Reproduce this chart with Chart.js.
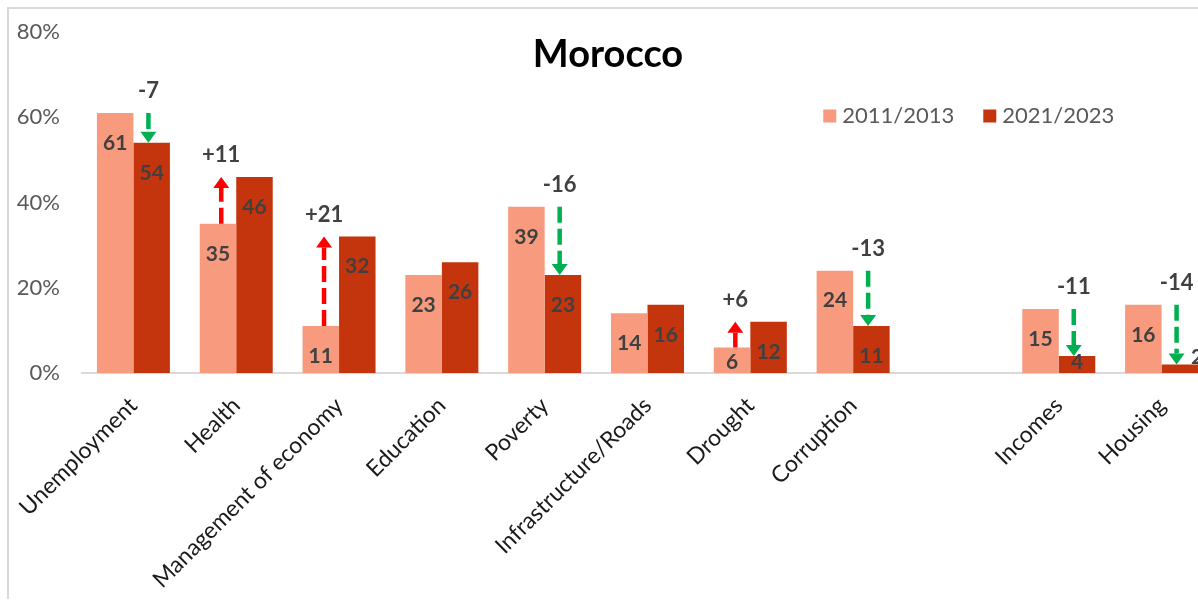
<!DOCTYPE html>
<html>
<head>
<meta charset="utf-8">
<title>Morocco</title>
<script src="https://cdn.jsdelivr.net/npm/chart.js@4.4.1/dist/chart.umd.min.js"></script>
<style>
  html, body { margin: 0; padding: 0; background: #fff; overflow: hidden; }
  #frame { position: absolute; left: 7px; top: 7px; border-top: 2px solid #d9d9d9; border-left: 2px solid #d9d9d9; }
  canvas { display: block; }
</style>
</head>
<body>
<div id="frame"><canvas id="myChart" width="1230" height="590"></canvas></div>
<script>
const categories = ['Unemployment', 'Health', 'Management of economy', 'Education', 'Poverty',
    'Infrastructure/Roads', 'Drought', 'Corruption', '', 'Incomes', 'Housing'];
const values2011 = [61, 35, 11, 23, 39, 14, 6, 24, null, 15, 16];
const values2021 = [54, 46, 32, 26, 23, 16, 12, 11, null, 4, 2];
const changeLabels = ['-7', '+11', '+21', null, '-16', null, '+6', '-13', null, '-11', '-14'];
const seriesNames = ['2011/2013', '2021/2023'];
const seriesColors = ['#F79A7E', '#C4350E'];
const yTicks = [0, 20, 40, 60, 80];

const FONT = 'Lato, "Open Sans", sans-serif';

// value labels, change arrows, title and legend
const annotations = {
    id: 'annotations',
    afterDatasetsDraw(chart) {
        const ctx = chart.ctx;
        const xScale = chart.scales.x;
        const yScale = chart.scales.y;
        const area = chart.chartArea;
        ctx.save();

        ctx.textBaseline = 'middle';
        ctx.font = `bold 21px ${FONT}`;
        ctx.fillStyle = '#404040';
        chart.data.datasets.forEach((ds, i) => {
            chart.getDatasetMeta(i).data.forEach((bar, j) => {
                const v = ds.data[j];
                if (v == null) return;
                if (bar.base - bar.y < 12) {
                    // too thin: put the label just beside the bar
                    ctx.textAlign = 'left';
                    ctx.fillText(String(v), bar.x + bar.width / 2 - 7, bar.y - 7);
                } else {
                    ctx.textAlign = 'center';
                    ctx.fillText(String(v), bar.x, Math.min(bar.y + 30, area.bottom - 11));
                }
            });
        });

        ctx.textAlign = 'center';
        changeLabels.forEach((label, j) => {
            if (!label) return;
            const v1 = values2011[j];
            const v2 = values2021[j];
            const up = v2 > v1;
            const ax = xScale.getPixelForValue(j) + (up ? -15 : 15);
            const y1 = yScale.getPixelForValue(v1);
            const y2 = yScale.getPixelForValue(v2);
            const dir = up ? -1 : 1;
            const head = 11;
            const color = up ? '#FF0000' : '#00B050';

            ctx.strokeStyle = color;
            ctx.lineWidth = 4.5;
            ctx.setLineDash([16, 6]);
            ctx.beginPath();
            ctx.moveTo(ax, y1);
            ctx.lineTo(ax, y2 - dir * head);
            ctx.stroke();
            ctx.setLineDash([]);

            ctx.fillStyle = color;
            ctx.beginPath();
            ctx.moveTo(ax - 8, y2 - dir * head);
            ctx.lineTo(ax + 8, y2 - dir * head);
            ctx.lineTo(ax, y2);
            ctx.closePath();
            ctx.fill();

            ctx.fillStyle = '#404040';
            ctx.font = `bold 22px ${FONT}`;
            ctx.fillText(label, ax, Math.min(y1, y2) - 22);
        });

        // title
        ctx.fillStyle = '#000';
        ctx.font = `bold 38px ${FONT}`;
        ctx.fillText('Morocco', chart.width * 0.487, 46);

        // legend
        ctx.font = `22px ${FONT}`;
        ctx.textAlign = 'left';
        let lx = chart.width * 0.662;
        const ly = 107;
        seriesNames.forEach((name, i) => {
            ctx.fillStyle = seriesColors[i];
            ctx.fillRect(lx, ly - 6.5, 13, 13);
            ctx.fillStyle = '#595959';
            ctx.fillText(name, lx + 19, ly);
            lx += 19 + ctx.measureText(name).width + 29;
        });

        ctx.restore();
    }
};

const ctx = document.getElementById('myChart').getContext('2d');
const myChart = new Chart(ctx, {
    type: 'bar',
    data: {
        labels: categories,
        datasets: [
            { label: seriesNames[0], data: values2011, backgroundColor: seriesColors[0] },
            { label: seriesNames[1], data: values2021, backgroundColor: seriesColors[1] }
        ]
    },
    options: {
        responsive: false,
        animation: false,
        layout: { padding: { left: 0, top: 23, right: 26, bottom: 0 } },
        datasets: { bar: { categoryPercentage: 0.71, barPercentage: 1 } },
        plugins: {
            legend: { display: false },
            tooltip: { enabled: false }
        },
        scales: {
            x: {
                grid: { display: false, drawTicks: false },
                border: { display: true, color: '#D9D9D9', width: 2 },
                ticks: {
                    color: '#1a1a1a',
                    font: { family: FONT, size: 23 },
                    minRotation: 45,
                    maxRotation: 45,
                    autoSkip: false,
                    padding: 19
                },
                afterFit(scale) {
                    scale.height = 226;
                    scale.paddingLeft = 0;
                    scale.paddingRight = 0;
                }
            },
            y: {
                min: 0,
                max: 80,
                afterBuildTicks(scale) { scale.ticks = yTicks.map(v => ({ value: v })); },
                grid: { display: false, drawTicks: false },
                border: { display: false },
                ticks: {
                    color: '#595959',
                    font: { family: FONT, size: 22 },
                    padding: 22,
                    callback: v => v + '%'
                },
                afterFit(scale) {
                    scale.width = 73;
                    scale.paddingTop = 0;
                    scale.paddingBottom = 0;
                }
            }
        }
    },
    plugins: [annotations]
});
</script>
</body>
</html>
